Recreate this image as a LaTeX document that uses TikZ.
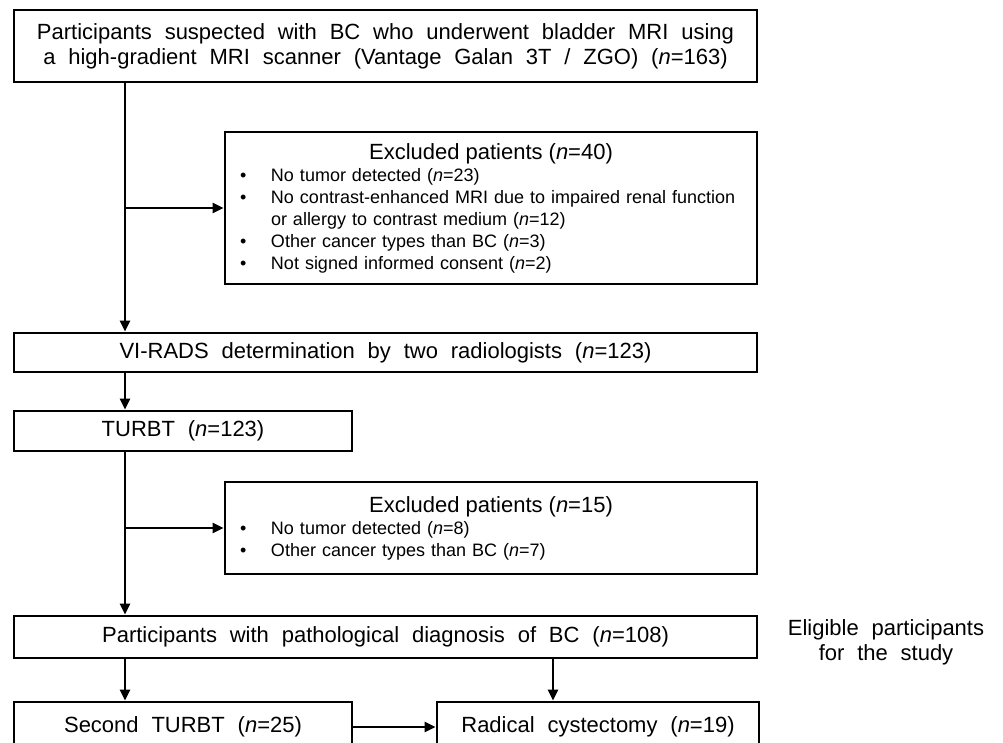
\documentclass[tikz,border=0pt]{standalone}
\usepackage{fontspec}
\setmainfont{Liberation Sans}[WordSpace=2.1]
\newfontfamily\listfont{Liberation Sans}[WordSpace=1.2]
\usetikzlibrary{arrows.meta,positioning}

\newcommand{\nn}{\textit{n}}
\newcommand{\bul}{\makebox[31pt][l]{\textbullet}}

\tikzset{
  box/.style={draw,line width=2.8pt,inner sep=2pt,align=center,
    font=\fontsize{22}{25}\selectfont},
  exbox/.style={draw,line width=2.8pt,inner xsep=15pt,inner ysep=0pt,
    minimum width=532pt,text width=502pt,align=left,
    font=\listfont\fontsize{18}{22}\selectfont},
  extitle/.style={font=\normalfont\fontsize{22}{24}\selectfont},
  arr/.style={line width=2.5pt,-{Triangle[length=11pt,width=10pt]}},
}

\begin{document}
\begin{tikzpicture}[x=1pt,y=-1pt]
  \useasboundingbox (0,0) rectangle (1003,743);

  \node[box,minimum width=743pt,minimum height=72pt] (top) at (385.5,46)
    {Participants suspected with BC who underwent bladder MRI using\\
     a high-gradient MRI scanner (Vantage Galan 3T / ZGO) (\nn=163)};
  \node[exbox,minimum height=152pt] (ex1) at (491,208)
    {\centering{\normalfont\fontsize{22}{26}\selectfont Excluded patients (\nn=40)}\par
     \raggedright
     \bul No tumor detected (\nn=23)\\
     \bul No contrast-enhanced MRI due to impaired renal function\\
     \hspace*{31pt}or allergy to contrast medium (\nn=12)\\
     \bul Other cancer types than BC (\nn=3)\\
     \bul Not signed informed consent (\nn=2)\par\vspace*{8pt}};
  \node[box,minimum width=743pt,minimum height=39pt] (vr) at (385.5,352.5)
    {VI-RADS determination by two radiologists (\nn=123)};
  \node[box,minimum width=338pt,minimum height=40pt] (tu) at (183,431)
    {TURBT (\nn=123)};
  \node[exbox,minimum height=92pt] (ex2) at (491,528)
    {\centering{\normalfont\fontsize{22}{26}\selectfont Excluded patients (\nn=15)}\par
     \raggedright
     \bul No tumor detected (\nn=8)\\
     \bul Other cancer types than BC (\nn=7)\par\vspace*{4pt}};
  \node[box,minimum width=743pt,minimum height=42pt] (pa) at (385.5,637)
    {Participants with pathological diagnosis of BC (\nn=108)};
  \node[align=center,font=\fontsize{22}{25}\selectfont] (el) at (886,642)
    {Eligible participants\\for the study};
  \node[box,minimum width=338pt,minimum height=50pt] (st) at (183,727)
    {Second TURBT (\nn=25)};
  \node[box,minimum width=322pt,minimum height=50pt] (rc) at (598,727)
    {Radical cystectomy (\nn=19)};

  \coordinate (spine) at (125,0);
  \coordinate (side) at (553,0);

  \draw[arr] (spine |- top.south) -- (spine |- vr.north);
  \draw[arr] (spine |- ex1.west) -- (ex1.west);
  \draw[arr] (spine |- vr.south) -- (spine |- tu.north);
  \draw[arr] (spine |- tu.south) -- (spine |- pa.north);
  \draw[arr] (spine |- ex2.west) -- (ex2.west);
  \draw[arr] (spine |- pa.south) -- (spine |- st.north);
  \draw[arr] (side |- pa.south) -- (side |- rc.north);
  \draw[arr] (st.east) -- (rc.west);
\end{tikzpicture}
\end{document}
